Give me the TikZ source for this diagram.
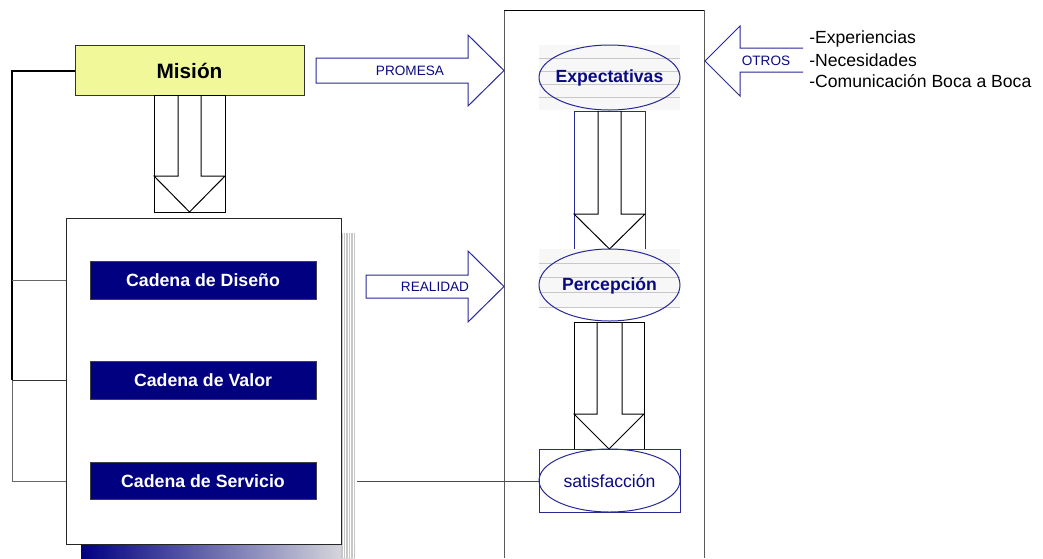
\documentclass[tikz,border=0pt]{standalone}
\usepackage{fontspec}
\setmainfont{Liberation Sans}
\usetikzlibrary{calc}
\definecolor{navyfill}{RGB}{0,0,128}
\definecolor{navytext}{RGB}{10,10,130}
\definecolor{blueline}{RGB}{40,40,150}
\definecolor{misionfill}{RGB}{240,248,154}
\tikzset{
  thin line/.style={line width=0.75pt},
  outline/.style={thin line, draw=black},
  blueoutline/.style={thin line, draw=blueline},
  chainbox/.style={thin line, draw=black!75, fill=navyfill},
  chaintext/.style={text=white, font=\fontsize{13.3}{16}\selectfont\bfseries, inner sep=0pt},
  ovaltext/.style={text=navytext, font=\fontsize{13.2}{16}\selectfont\bfseries, inner sep=0pt},
  smalllabel/.style={text=navytext, font=\fontsize{10.2}{12}\selectfont, inner sep=0pt},
  listtext/.style={text=black, font=\fontsize{13.2}{15.5}\selectfont, inner sep=0pt, anchor=west},
  faintline/.style={line width=0.6pt, draw=black!22},
  linkline/.style={thin line, draw=black!60},
}
\begin{document}
\begin{tikzpicture}[x=0.75pt, y=-0.75pt]
\useasboundingbox (0,0) rectangle (1043,558);

% ---- left bracket linking the mission to the three chains
\draw[line width=1.3pt, black] (75,71) -- (12,71) -- (12,380);
\draw[linkline] (12,380) -- (12,481);
\draw[linkline] (12,280) -- (66,280);
\draw[linkline, draw=black!80] (12,380) -- (66,380);
\draw[linkline] (12,481) -- (66,481);

% ---- mission box
\draw[outline, draw=black!80, fill=misionfill] (75,45) rectangle (304,95);
\node[font=\fontsize{15.6}{18}\selectfont\bfseries, inner sep=0pt] (mision) at (189.5,71) {Misión};

% ---- block arrow from the mission down to the chains
\draw[outline] (154,95) rectangle (225,212);
\draw[outline] (178,95) -- (178,176) -- (154,176) -- (189.5,212) -- (225,176) -- (201,176) -- (201,95);

% ---- shadow of the chains panel
\shade[left color=navyfill, right color=black!12] (81,544) rectangle (355,558);
\fill[black!22] (341,233) rectangle (355,558);
\foreach \sx in {343,345.5,348,350.5,353} {
  \draw[white, line width=0.7pt] (\sx,233) -- (\sx,558);
}

% ---- chains panel
\draw[outline, draw=black!85, fill=white] (66,218) rectangle (341,544);
\draw[chainbox] (90,261) rectangle (316,299);
\node[chaintext] (diseno) at (203,280) {Cadena de Diseño};
\draw[chainbox] (90,361) rectangle (316,399);
\node[chaintext] (valor) at (203,380) {Cadena de Valor};
\draw[chainbox] (90,462) rectangle (316,499);
\node[chaintext] (servicio) at (203,481) {Cadena de Servicio};

% ---- customer panel
\draw[thin line, draw=black!65] (504,558) -- (504,10);
\draw[thin line, draw=black] (504,10) -- (704,10);
\draw[thin line, draw=black!65] (704,10) -- (704,558);

% ---- PROMESA arrow
\draw[blueoutline, fill=white] (316,58) -- (468,58) -- (468,35) -- (504,70.5) -- (468,106) -- (468,83) -- (316,83) -- cycle;
\node[smalllabel] (promesa) at (410,70.5) {PROMESA};

% ---- OTROS arrow with the external factors
\draw[blueoutline] (803,48) -- (740,48) -- (740,26) -- (705,61) -- (740,96) -- (740,72) -- (803,72);
\node[smalllabel] (otros) at (766,61) {OTROS};
\node[listtext] (exp) at (809,39) {-Experiencias};
\node[listtext] (nec) at (809,60) {-Necesidades};
\node[listtext] (com) at (809,81.5) {-Comunicación Boca a Boca};

% ---- Expectativas
\fill[black!3] (539,45) rectangle (680,110);
\foreach \ly in {58,71.5,84.5,97.5} { \draw[faintline] (539,\ly) -- (680,\ly); }
\draw[blueoutline] (609.5,77.5) ellipse [x radius=70.5, y radius=32.5];
\node[ovaltext] (expect) at (609.5,78) {Expectativas};

% ---- block arrow Expectativas to Percepción
\draw[blueoutline] (574,111) rectangle (645,249);
\draw[outline] (598,111) -- (598,214) -- (574,214) -- (609.5,249) -- (645,214) -- (621,214) -- (621,111);

% ---- REALIDAD arrow
\draw[blueoutline, fill=white] (366,275) -- (468,275) -- (468,251) -- (504,286.5) -- (468,322) -- (468,298) -- (366,298) -- cycle;
\node[smalllabel] (realidad) at (435,286.5) {REALIDAD};

% ---- Percepción
\fill[black!3] (539,249) rectangle (680,308);
\foreach \ly in {263,277.5,292,307} { \draw[faintline] (539,\ly) -- (680,\ly); }
\draw[blueoutline] (609.5,285) ellipse [x radius=70.5, y radius=36];
\node[ovaltext] (percep) at (609.5,285.5) {Percepción};

% ---- block arrow Percepción to satisfacción
\draw[outline] (574,322) rectangle (644,449);
\draw[outline] (597,322) -- (597,414) -- (574,414) -- (609,449) -- (644,414) -- (622,414) -- (622,322);

% ---- satisfacción
\draw[blueoutline] (539,449) rectangle (680,512);
\draw[blueoutline] (609.5,480.5) ellipse [x radius=70.5, y radius=31.5];
\node[text=navytext, font=\fontsize{13.2}{16}\selectfont, inner sep=0pt] (satis) at (609.5,481) {satisfacción};
\coordinate (servout) at (357,481);
\draw[linkline, draw=black!70] (servout) -- (satis.west -| 539,481);
\end{tikzpicture}
\end{document}
